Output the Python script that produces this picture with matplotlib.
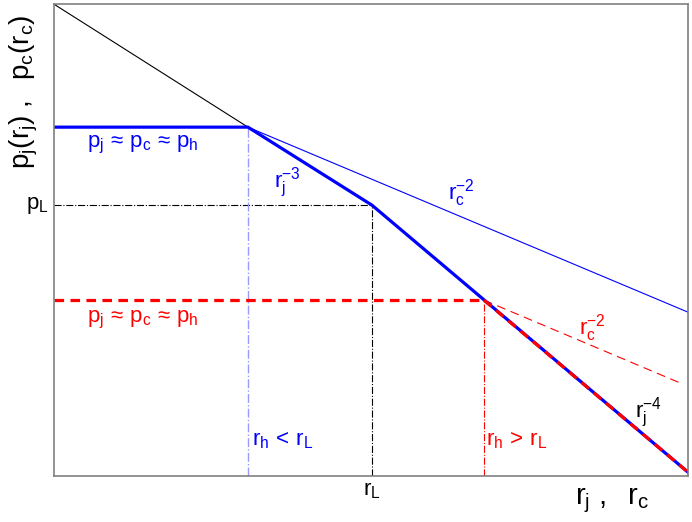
import matplotlib
matplotlib.use('Agg')
import matplotlib.pyplot as plt

plt.rcParams['font.family'] = ['Liberation Sans', 'DejaVu Sans']
plt.rcParams['mathtext.fontset'] = 'custom'
plt.rcParams['mathtext.rm'] = 'Liberation Sans'
plt.rcParams['mathtext.it'] = 'Liberation Sans'
plt.rcParams['mathtext.default'] = 'regular'

# schematic coordinates (arbitrary units)
x_max, y_max = 634, 472
x_h1, p_h1 = 194, 349      # r_h < r_L case, plateau
x_L, p_L = 318, 271        # break point r_L, p_L
x_h2, p_h2 = 430, 176      # r_h > r_L case, plateau
y_end_j = 4                # r_j^-4 tail at right edge
y_end_c1 = 164             # r_c^-2 (blue) at right edge
x_end_c2, y_end_c2 = 629, 92  # r_c^-2 (red) end
y_start_black = 472        # black guide at left edge

fig, ax = plt.subplots(figsize=(6.92, 5.22), dpi=100)
fig.subplots_adjust(left=0.078, right=0.994, bottom=0.088, top=0.992)

# guide lines
ax.plot([0, x_L], [p_L, p_L], color='black', lw=0.8, ls='-.')
ax.plot([x_L, x_L], [0, p_L], color='black', lw=0.8, ls='-.')
ax.plot([x_h1, x_h1], [0, p_h1], color='#9999ff', lw=1.0, ls='-.')
ax.plot([x_h2, x_h2], [0, p_h2], color='red', lw=0.8, ls='-.')

# black line above plateau
ax.plot([0, x_h1], [y_start_black, p_h1], color='black', lw=0.8)
# thin blue r_c^-2
ax.plot([x_h1, x_max], [p_h1, y_end_c1], color='blue', lw=0.8)
# thin red dashed r_c^-2
ax.plot([x_h2, x_end_c2], [p_h2, y_end_c2], color='red', lw=0.8, ls=(0, (8, 5)))

# thick blue p_j
ax.plot([0, x_h1, x_L, x_max], [p_h1, p_h1, p_L, y_end_j], color='blue', lw=2.3,
        solid_joinstyle='miter')
# thick red dashed plateau and tail
ax.plot([0, x_h2], [p_h2, p_h2], color='red', lw=2.3, ls=(0, (3, 2)))
ax.plot([x_h2, x_max], [p_h2, y_end_j], color='red', lw=2.3, ls=(0, (3, 2)))

fs = 16
plateau = r'$p_j\,\approx\,p_c\,\approx\,p_h$'
ax.text(33, 331, plateau, color='blue', fontsize=fs, va='center')
ax.text(33, 156, plateau, color='red', fontsize=fs, va='center')
ax.text(220, 293, r'$r_j^{-3}$', color='blue', fontsize=fs, va='center')
ax.text(394, 283, r'$r_c^{-2}$', color='blue', fontsize=fs, va='center')
ax.text(525, 148, r'$r_c^{-2}$', color='red', fontsize=fs, va='center')
ax.text(581, 63, r'$r_j^{-4}$', color='black', fontsize=fs, va='center')
ax.text(198, 36, r'$r_h\,<\,r_L$', color='blue', fontsize=fs, va='center')
ax.text(432, 36, r'$r_h\,>\,r_L$', color='red', fontsize=fs, va='center')
ax.text(-5, p_L, r'$p_L$', color='black', fontsize=fs, va='center', ha='right')
ax.text(x_L, -4, r'$r_L$', color='black', fontsize=fs, va='top', ha='center')

ax.text(0.88, -0.022, r'$r_j\ ,\ \ r_c$', transform=ax.transAxes, fontsize=21,
        ha='center', va='top')
ax.text(-0.048, 0.815, r'$p_j(r_j)\ ,\ \ p_c(r_c)$', transform=ax.transAxes, fontsize=20,
        ha='center', va='center', rotation=90)

ax.set_xlim(0, x_max)
ax.set_ylim(0, y_max)
ax.set_xticks([])
ax.set_yticks([])
for s in ax.spines.values():
    s.set_color('#808080')
    s.set_linewidth(1.2)

fig.savefig('out.png', dpi=100)
